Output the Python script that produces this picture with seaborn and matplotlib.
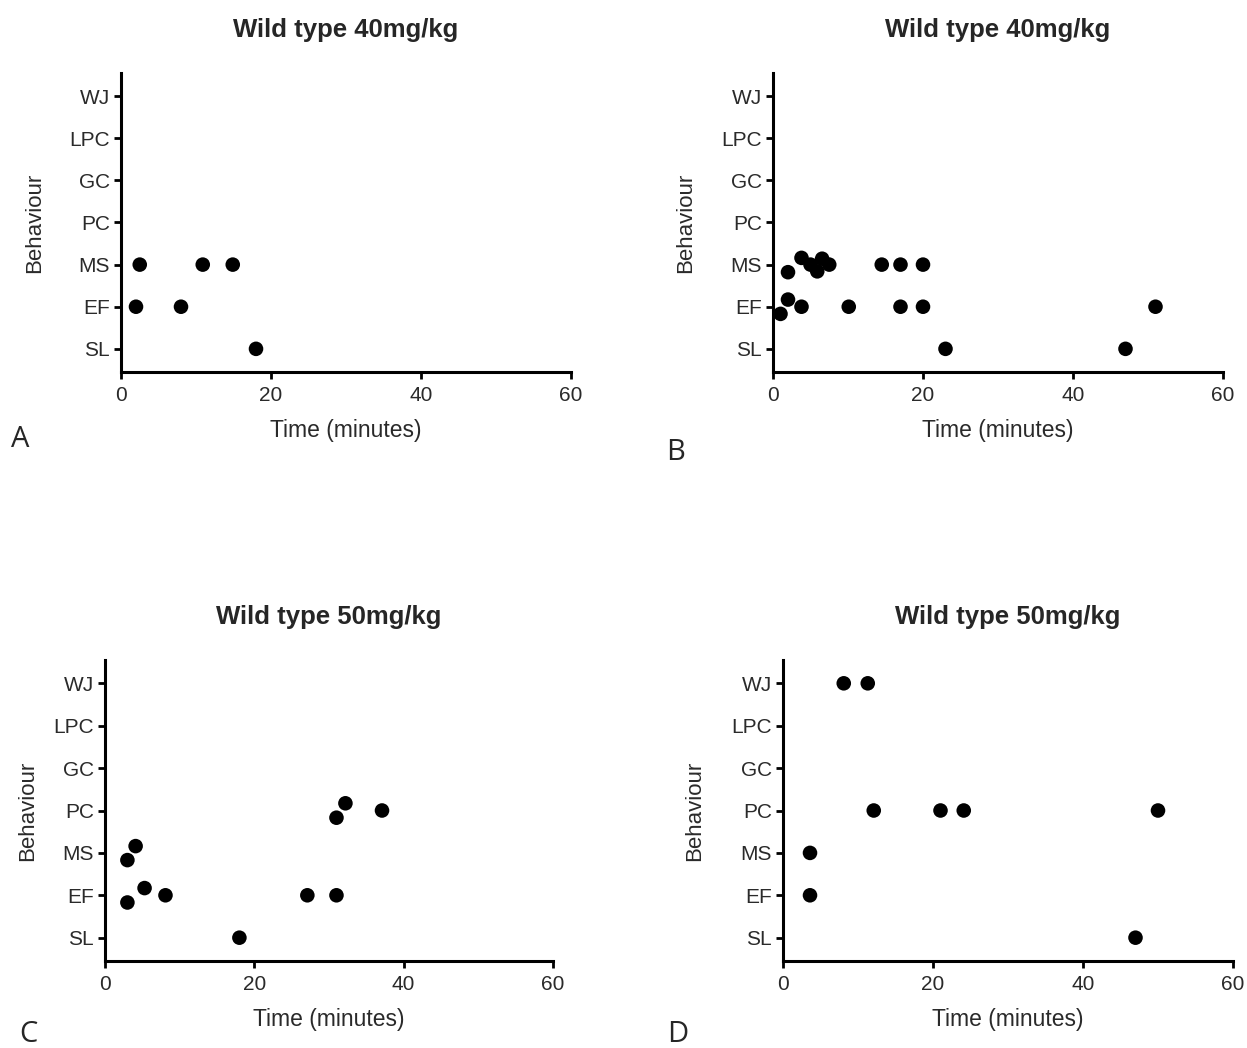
import pandas as pd
import numpy as np
import matplotlib
matplotlib.use("Agg")
import matplotlib.pyplot as plt
import seaborn as sns

sns.set_style("white")
plt.rcParams['font.family'] = ['Liberation Sans', 'DejaVu Sans']

behaviours = ['SL', 'EF', 'MS', 'PC', 'GC', 'LPC', 'WJ']

# panel A - wild type 40mg/kg
a_time = [2.5, 10.9, 14.9, 2.0, 8.0, 18.0]
a_behav = ['MS', 'MS', 'MS', 'EF', 'EF', 'SL']
a_jitter = [0, 0, 0, 0, 0, 0]

# panel B - wild type 40mg/kg
b_time = [2.0, 3.8, 5.0, 5.9, 6.55, 7.5, 14.5, 17.0, 20.0,
          1.0, 2.0, 3.8, 10.1, 17.0, 20.0, 51.0,
          23.0, 47.0]
b_behav = ['MS'] * 9 + ['EF'] * 7 + ['SL'] * 2
b_jitter = [-0.18, 0.16, 0, -0.16, 0.14, 0, 0, 0, 0,
            -0.17, 0.17, 0, 0, 0, 0, 0,
            0, 0]

# panel C - wild type 50mg/kg
c_time = [32.2, 31.0, 37.1, 4.1, 3.0, 5.3, 3.0, 8.1, 27.1, 31.0, 18.0]
c_behav = ['PC', 'PC', 'PC', 'MS', 'MS', 'EF', 'EF', 'EF', 'EF', 'EF', 'SL']
c_jitter = [0.17, -0.17, 0, 0.16, -0.17, 0.17, -0.17, 0, 0, 0, 0]

# panel D - wild type 50mg/kg
d_time = [8.1, 11.3, 12.1, 21.0, 24.1, 50.0, 3.6, 3.6, 47.0]
d_behav = ['WJ', 'WJ', 'PC', 'PC', 'PC', 'PC', 'MS', 'EF', 'SL']
d_jitter = [0] * 9

titles = ['Wild type 40mg/kg', 'Wild type 40mg/kg', 'Wild type 50mg/kg', 'Wild type 50mg/kg']
letters = ['A', 'B', 'C', 'D']

fig = plt.figure(figsize=(12.47, 10.48), dpi=100)

W, H = 1247, 1048
boxes = [(121, 73, 571, 372), (773, 73, 1223, 372),
         (105, 660, 553, 961), (783, 660, 1233, 961)]
letter_pos = [(20, 440), (676, 452), (28, 1035), (678, 1035)]
ylab_x = [35, 686, 28, 695]

panels = [(a_time, a_behav, a_jitter), (b_time, b_behav, b_jitter),
          (c_time, c_behav, c_jitter), (d_time, d_behav, d_jitter)]

for i, (t, b, j) in enumerate(panels):
    x0, y0, x1, y1 = boxes[i]
    ax = fig.add_axes([x0 / W, 1 - y1 / H, (x1 - x0) / W, (y1 - y0) / H])
    df = pd.DataFrame({'Time': t, 'Behaviour': b, 'jitter': j})
    df['y'] = df['Behaviour'].map({k: n for n, k in enumerate(behaviours)}) + df['jitter']
    sns.scatterplot(data=df, x='Time', y='y', color='black', s=110,
                    edgecolor='none', ax=ax, clip_on=False)
    ax.set_xlim(0, 60)
    ax.set_ylim(-0.55, 6.55)
    ax.set_xticks([0, 20, 40, 60])
    ax.set_yticks(range(len(behaviours)))
    ax.set_yticklabels(behaviours)
    for side in ['top', 'right']:
        ax.spines[side].set_visible(False)
    for side in ['left', 'bottom']:
        ax.spines[side].set_linewidth(2.2)
        ax.spines[side].set_color('black')
    ax.tick_params(axis='both', direction='out', length=5, width=2, color='black',
                   labelsize=15, labelcolor='#2a2a2a', pad=3, bottom=True, left=True)
    ax.tick_params(axis='x', pad=5)
    ax.set_xlabel('Time (minutes)', fontsize=16.5, color='#2a2a2a', labelpad=10)
    ax.set_ylabel('')
    fig.text(ylab_x[i] / W, 1 - (y0 + y1) / 2 / H, 'Behaviour', rotation=90,
             ha='center', va='center', fontsize=16, color='#2a2a2a')
    ax.set_title(titles[i], fontsize=18.5, fontweight='bold', pad=26)
    lx, ly = letter_pos[i]
    fig.text(lx / W, 1 - ly / H, letters[i], fontsize=21, family=['Open Sans', 'DejaVu Sans'],
             ha='center', va='center')

plt.savefig("out.png", dpi=100)
plt.close('all')
